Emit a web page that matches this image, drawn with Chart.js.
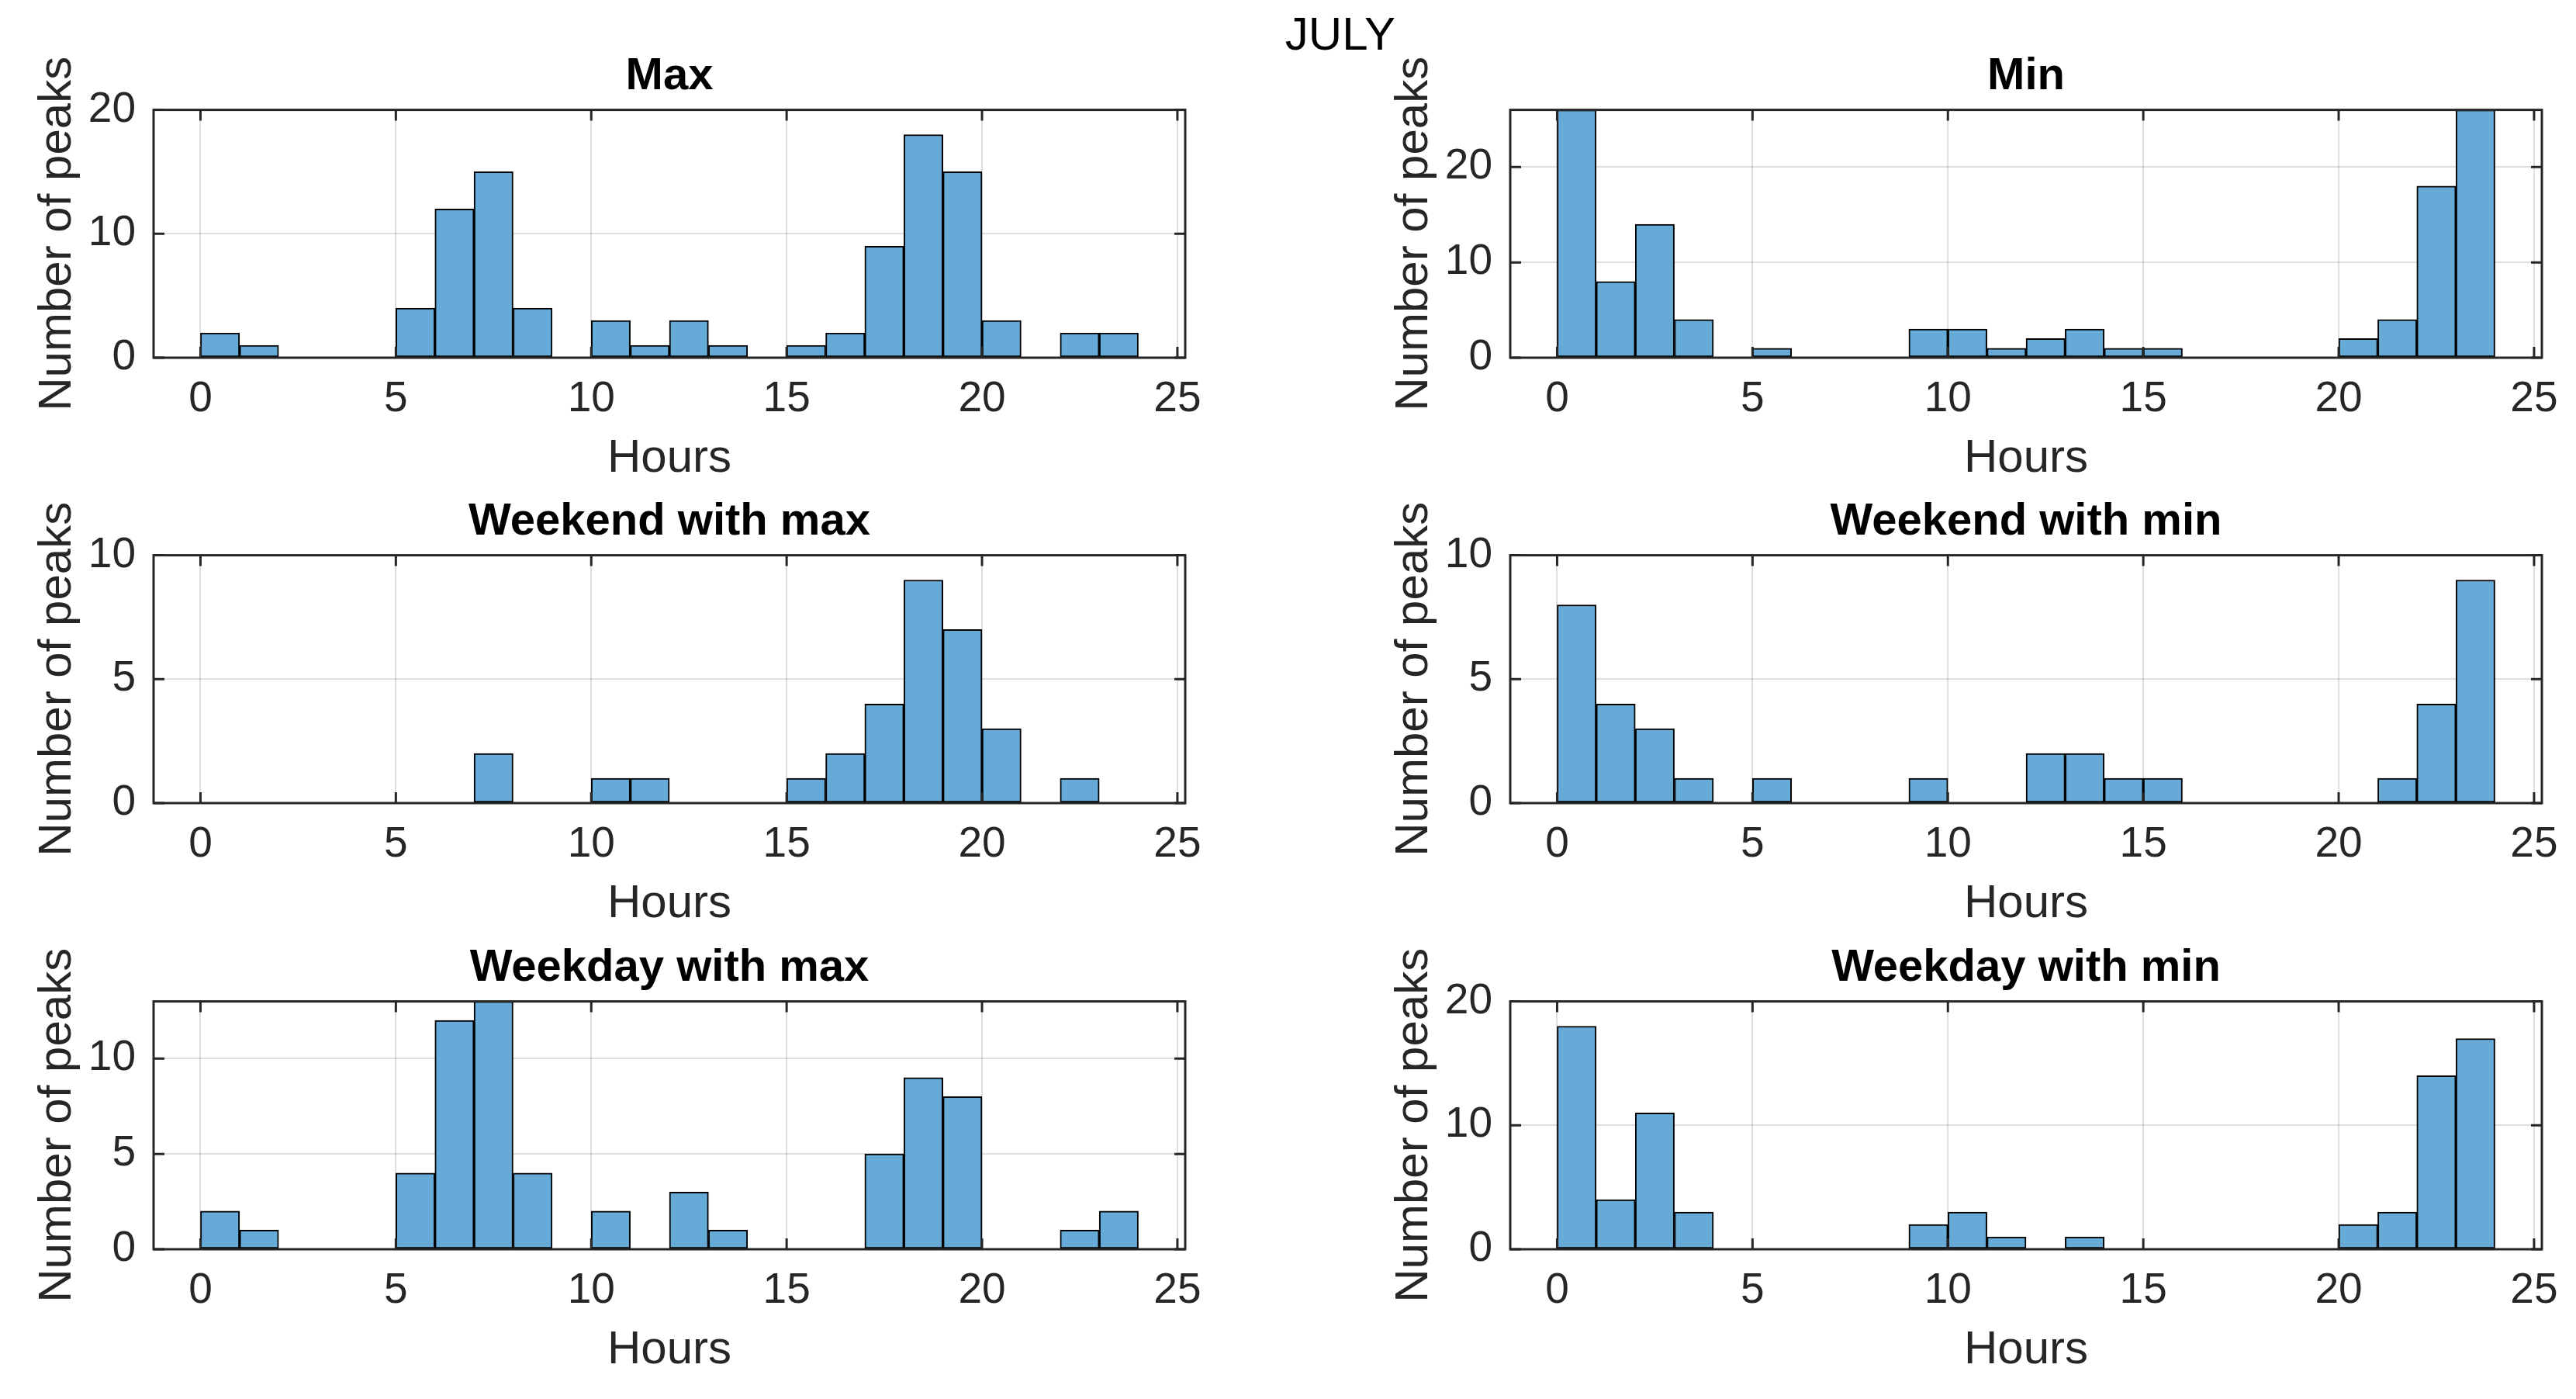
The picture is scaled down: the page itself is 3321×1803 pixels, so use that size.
<!DOCTYPE html>
<html>
<head>
<meta charset="utf-8">
<script src="https://cdn.jsdelivr.net/npm/chart.js@4.4.1/dist/chart.umd.min.js"></script>
<style>
    body { margin: 0; background: #fff; width: 3321px; height: 1803px; position: relative; overflow: hidden; }
    canvas { position: absolute; }
    #suptitle { position: absolute; top: 8px; left: 1728px; transform: translateX(-50%);
        font: 60px 'Liberation Sans', Arial, sans-serif; line-height: 72px; color: #000; }
</style>
</head>
<body>
<div id="suptitle">JULY</div>
<script>
// hour bins (left edges, 1 h wide)
const hours = [0, 1, 2, 3, 4, 5, 6, 7, 8, 9, 10, 11, 12, 13, 14, 15, 16, 17, 18, 19, 20, 21, 22, 23];
const xTicks = [0, 5, 10, 15, 20, 25];

// counts per bin
const maxPeaks     = [2, 1, 0, 0, 0, 4, 12, 15, 4, 0, 3, 1, 3, 1, 0, 1, 2, 9, 18, 15, 3, 0, 2, 2];
const minPeaks     = [26, 8, 14, 4, 0, 1, 0, 0, 0, 3, 3, 1, 2, 3, 1, 1, 0, 0, 0, 0, 2, 4, 18, 26];
const weekendMax   = [0, 0, 0, 0, 0, 0, 0, 2, 0, 0, 1, 1, 0, 0, 0, 1, 2, 4, 9, 7, 3, 0, 1, 0];
const weekendMin   = [8, 4, 3, 1, 0, 1, 0, 0, 0, 1, 0, 0, 2, 2, 1, 1, 0, 0, 0, 0, 0, 1, 4, 9];
const weekdayMax   = [2, 1, 0, 0, 0, 4, 12, 13, 4, 0, 2, 0, 3, 1, 0, 0, 0, 5, 9, 8, 0, 0, 1, 2];
const weekdayMin   = [18, 4, 11, 3, 0, 0, 0, 0, 0, 2, 3, 1, 0, 1, 0, 0, 0, 0, 0, 0, 2, 3, 14, 17];

const panelTitles = ['Max', 'Min', 'Weekend with max', 'Weekend with min', 'Weekday with max', 'Weekday with min'];
const panelData = [maxPeaks, minPeaks, weekendMax, weekendMin, weekdayMax, weekdayMin];
const yLimits = [20, 26, 10, 10, 13, 20];
const yTicks = [[0, 10, 20], [0, 10, 20], [0, 5, 10], [0, 5, 10], [0, 5, 10], [0, 10, 20]];

// layout (px)
const plotLefts = [198, 1947];
const plotTops = [144, 718, 1293];
const plotW = 1330, plotH = 317;
const leftSpace = 198, topSpace = 144, rightSpace = 50, bottomSpace = 170;

const FONT = "'Liberation Sans', Arial, Helvetica, sans-serif";
const AXIS_COLOR = '#262626';
Chart.defaults.font.family = FONT;
Chart.defaults.color = AXIS_COLOR;

// MATLAB-style box with inward tick marks
const boxPlugin = {
    id: 'box',
    afterDraw(chart) {
        const { ctx, chartArea: a, scales: { x, y } } = chart;
        const tl = 14;
        ctx.save();
        ctx.strokeStyle = AXIS_COLOR;
        ctx.lineWidth = 3;
        ctx.beginPath();
        x.ticks.forEach(t => {
            const px = x.getPixelForValue(t.value);
            ctx.moveTo(px, a.bottom); ctx.lineTo(px, a.bottom - tl);
            ctx.moveTo(px, a.top); ctx.lineTo(px, a.top + tl);
        });
        y.ticks.forEach(t => {
            const py = y.getPixelForValue(t.value);
            ctx.moveTo(a.left, py); ctx.lineTo(a.left + tl, py);
            ctx.moveTo(a.right, py); ctx.lineTo(a.right - tl, py);
        });
        ctx.stroke();
        ctx.strokeRect(a.left, a.top, a.right - a.left, a.bottom - a.top);
        ctx.restore();
    }
};

panelData.forEach((counts, i) => {
    const col = i % 2, row = Math.floor(i / 2);
    const canvas = document.createElement('canvas');
    const w = leftSpace + plotW + rightSpace;
    const h = topSpace + plotH + bottomSpace;
    canvas.width = w;
    canvas.height = h;
    canvas.style.left = (plotLefts[col] - leftSpace) + 'px';
    canvas.style.top = (plotTops[row] - topSpace) + 'px';
    canvas.style.width = w + 'px';
    canvas.style.height = h + 'px';
    document.body.appendChild(canvas);

    const ticksY = yTicks[i];

    new Chart(canvas, {
        type: 'bar',
        data: {
            datasets: [{
                data: hours.map((hr, k) => ({ x: hr + 0.5, y: counts[k] })),
                backgroundColor: 'rgb(102, 170, 215)',
                borderColor: '#000',
                borderWidth: 2,
                borderSkipped: false,
                barPercentage: 1,
                categoryPercentage: 1
            }]
        },
        options: {
            responsive: false,
            animation: false,
            devicePixelRatio: 1,
            layout: { padding: { left: 0, top: 0, right: rightSpace, bottom: 0 } },
            plugins: {
                legend: { display: false },
                tooltip: { enabled: false },
                title: {
                    display: true,
                    text: panelTitles[i],
                    fullSize: false,
                    color: '#000',
                    font: { size: 58, weight: 'bold', lineHeight: 1.2 },
                    padding: { top: 64, bottom: 8 }
                }
            },
            scales: {
                x: {
                    type: 'linear',
                    min: -1.2,
                    max: 25.2,
                    offset: false,
                    z: 1,
                    afterBuildTicks: s => { s.ticks = xTicks.map(v => ({ value: v })); },
                    afterFit: s => { s.height = bottomSpace; },
                    grid: { color: 'rgba(38,38,38,0.15)', lineWidth: 2, drawTicks: false, offset: false },
                    border: { display: false },
                    ticks: { font: { size: 55, lineHeight: 1.2 }, padding: 21, maxRotation: 0, color: AXIS_COLOR },
                    title: { display: true, text: 'Hours', font: { size: 60, lineHeight: 1.2 }, padding: { top: 0, bottom: 4 }, color: AXIS_COLOR }
                },
                y: {
                    min: 0,
                    max: yLimits[i],
                    z: 1,
                    afterBuildTicks: s => { s.ticks = ticksY.map(v => ({ value: v })); },
                    afterFit: s => { s.width = leftSpace; },
                    grid: { color: 'rgba(38,38,38,0.15)', lineWidth: 2, drawTicks: false },
                    border: { display: false },
                    ticks: { font: { size: 55, lineHeight: 1.2 }, padding: 23, color: AXIS_COLOR },
                    title: { display: true, text: 'Number of peaks', font: { size: 60, lineHeight: 1.2 }, padding: { top: 38, bottom: 0 }, color: AXIS_COLOR }
                }
            }
        },
        plugins: [boxPlugin]
    });
});
</script>
</body>
</html>
